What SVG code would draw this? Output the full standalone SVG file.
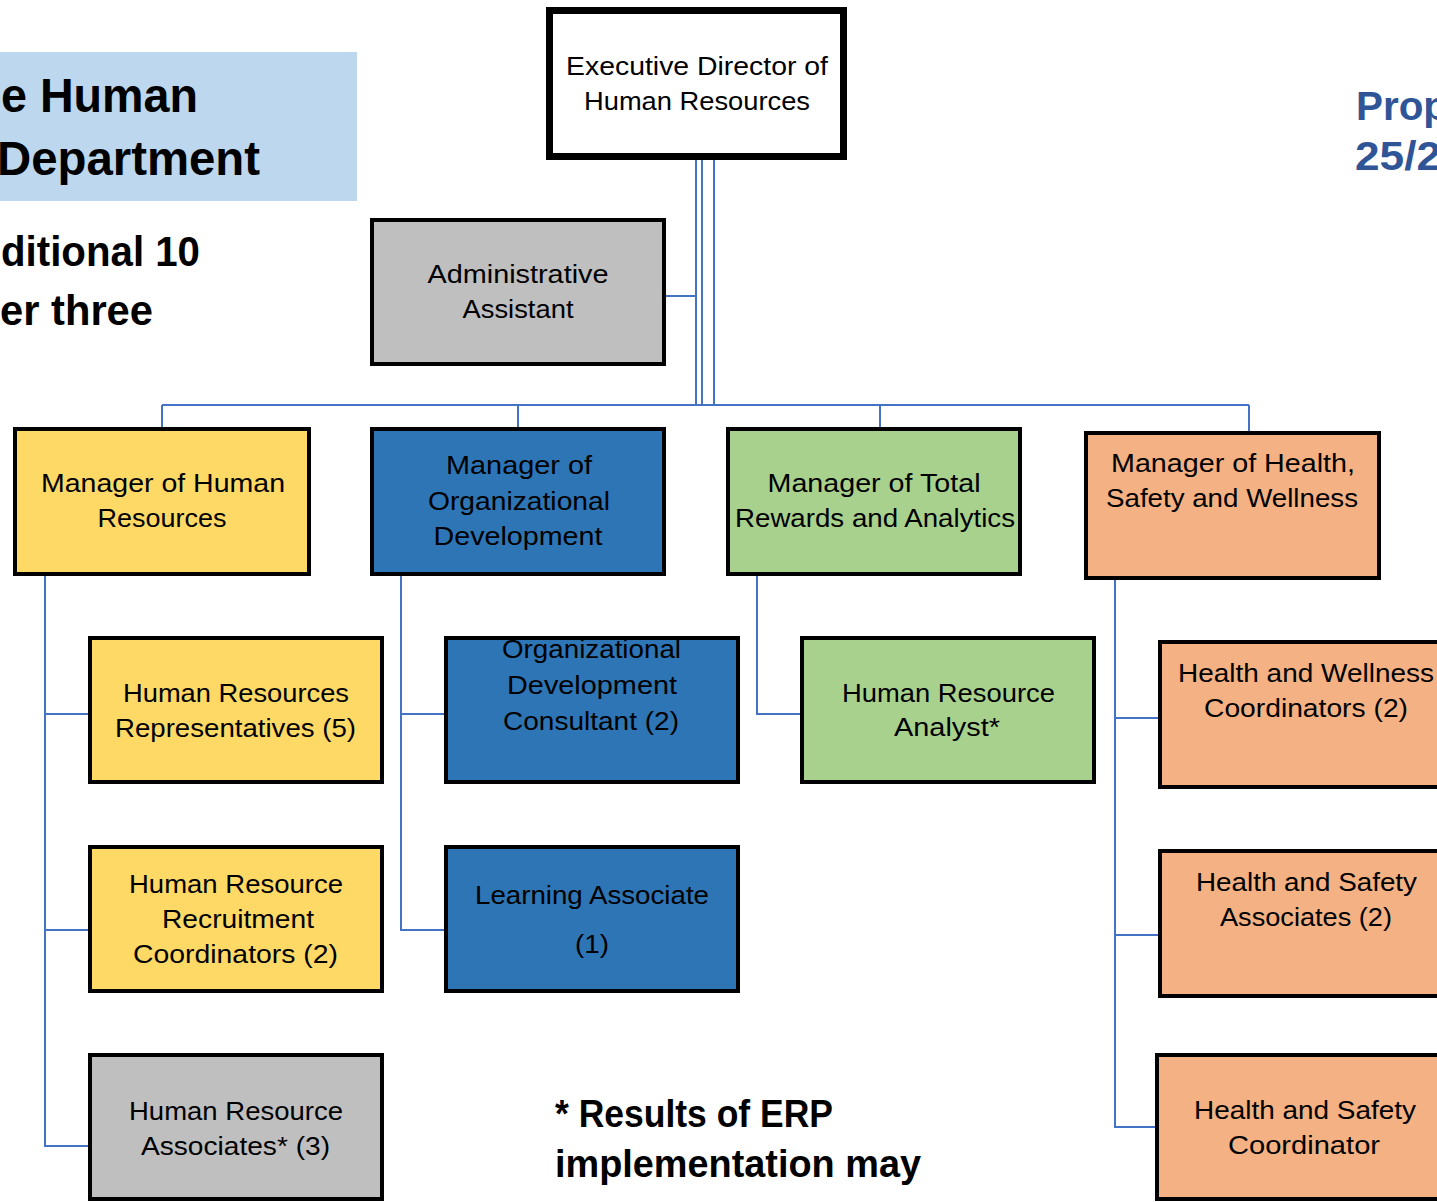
<svg xmlns="http://www.w3.org/2000/svg" width="1437" height="1202" viewBox="0 0 1437 1202">
<style>
.box{stroke:#000;stroke-width:4}
.exec{fill:#fff;stroke:#000;stroke-width:7}
.grey{fill:#BFBFBF}
.yel{fill:#FFD966}
.blu{fill:#2E75B6}
.grn{fill:#A9D18E}
.org{fill:#F4B183}
.t{font-family:"Liberation Sans",Arial,sans-serif;font-size:26px;fill:#000;text-anchor:middle}
.b{font-family:"Liberation Sans",Arial,sans-serif;font-weight:bold;fill:#000}
.conn line,.conn polyline{stroke:#4472C4;stroke-width:2;fill:none}
</style>
<rect x="0" y="52" width="357" height="149" fill="#BDD7EE"/>
<g id="title">
<text class="b" x="1" y="112" font-size="48" textLength="197" lengthAdjust="spacingAndGlyphs">e Human</text>
<text class="b" x="-3" y="175" font-size="48" textLength="263" lengthAdjust="spacingAndGlyphs">Department</text>
<text class="b" x="1" y="266" font-size="42" textLength="199" lengthAdjust="spacingAndGlyphs">ditional 10</text>
<text class="b" x="0" y="325" font-size="42" textLength="153" lengthAdjust="spacingAndGlyphs">er three</text>
<text class="b" x="1356" y="120" font-size="40" style="fill:#2F5597" textLength="92" lengthAdjust="spacingAndGlyphs">Prop</text>
<text class="b" x="1355" y="170" font-size="40" style="fill:#2F5597" textLength="86" lengthAdjust="spacingAndGlyphs">25/2</text>
</g>
<g id="note">
<text class="b" x="555" y="1127" font-size="38" textLength="278" lengthAdjust="spacingAndGlyphs">* Results of ERP</text>
<text class="b" x="555" y="1177" font-size="38" textLength="366" lengthAdjust="spacingAndGlyphs">implementation may</text>
</g>
<g id="connectors" class="conn">
<line x1="696" y1="160" x2="696" y2="405"/>
<line x1="702" y1="160" x2="702" y2="405"/>
<line x1="714" y1="160" x2="714" y2="405"/>
<line x1="666" y1="296" x2="696" y2="296"/>
<line x1="162" y1="405" x2="1249" y2="405"/>
<line x1="162" y1="405" x2="162" y2="427"/>
<line x1="518" y1="405" x2="518" y2="427"/>
<line x1="880" y1="405" x2="880" y2="427"/>
<line x1="1249" y1="405" x2="1249" y2="431"/>
<polyline points="45,576 45,1146 88,1146"/>
<line x1="45" y1="714" x2="88" y2="714"/>
<line x1="45" y1="930" x2="88" y2="930"/>
<polyline points="401,576 401,930 444,930"/>
<line x1="401" y1="714" x2="444" y2="714"/>
<polyline points="757,576 757,714 800,714"/>
<polyline points="1115,580 1115,1127 1155,1127"/>
<line x1="1115" y1="718" x2="1158" y2="718"/>
<line x1="1115" y1="935" x2="1158" y2="935"/>
</g>
<g id="exec">
<rect class="exec" x="549.5" y="10.5" width="294" height="146"/>
<text class="t" x="697" y="75" textLength="262" lengthAdjust="spacingAndGlyphs">Executive Director of</text>
<text class="t" x="697" y="110" textLength="226" lengthAdjust="spacingAndGlyphs">Human Resources</text>
</g>
<g id="admin">
<rect class="box grey" x="372" y="220" width="292" height="144"/>
<text class="t" x="518" y="283" textLength="181" lengthAdjust="spacingAndGlyphs">Administrative</text>
<text class="t" x="518" y="318" textLength="111" lengthAdjust="spacingAndGlyphs">Assistant</text>
</g>
<g id="mgr-hr">
<rect class="box yel" x="15" y="429" width="294" height="145"/>
<text class="t" x="163" y="492" textLength="244" lengthAdjust="spacingAndGlyphs">Manager of Human</text>
<text class="t" x="162" y="527" textLength="129" lengthAdjust="spacingAndGlyphs">Resources</text>
</g>
<g id="mgr-od">
<rect class="box blu" x="372" y="429" width="292" height="145"/>
<text class="t" x="519" y="474" textLength="146" lengthAdjust="spacingAndGlyphs">Manager of</text>
<text class="t" x="519" y="510" textLength="182" lengthAdjust="spacingAndGlyphs">Organizational</text>
<text class="t" x="518" y="545" textLength="169" lengthAdjust="spacingAndGlyphs">Development</text>
</g>
<g id="mgr-tr">
<rect class="box grn" x="728" y="429" width="292" height="145"/>
<text class="t" x="874" y="492" textLength="213" lengthAdjust="spacingAndGlyphs">Manager of Total</text>
<text class="t" x="875" y="527" textLength="280" lengthAdjust="spacingAndGlyphs">Rewards and Analytics</text>
</g>
<g id="mgr-hsw">
<rect class="box org" x="1086" y="433" width="293" height="145"/>
<text class="t" x="1233" y="472" textLength="244" lengthAdjust="spacingAndGlyphs">Manager of Health,</text>
<text class="t" x="1232" y="507" textLength="252" lengthAdjust="spacingAndGlyphs">Safety and Wellness</text>
</g>
<g id="hr-reps">
<rect class="box yel" x="90" y="638" width="292" height="144"/>
<text class="t" x="236" y="702" textLength="226" lengthAdjust="spacingAndGlyphs">Human Resources</text>
<text class="t" x="235.5" y="737" textLength="241" lengthAdjust="spacingAndGlyphs">Representatives (5)</text>
</g>
<g id="hr-recruit">
<rect class="box yel" x="90" y="847" width="292" height="144"/>
<text class="t" x="236" y="893" textLength="214" lengthAdjust="spacingAndGlyphs">Human Resource</text>
<text class="t" x="238" y="928" textLength="152" lengthAdjust="spacingAndGlyphs">Recruitment</text>
<text class="t" x="235.5" y="963" textLength="205" lengthAdjust="spacingAndGlyphs">Coordinators (2)</text>
</g>
<g id="hr-assoc">
<rect class="box grey" x="90" y="1055" width="292" height="144"/>
<text class="t" x="236" y="1120" textLength="214" lengthAdjust="spacingAndGlyphs">Human Resource</text>
<text class="t" x="235.5" y="1155" textLength="189" lengthAdjust="spacingAndGlyphs">Associates* (3)</text>
</g>
<g id="od-consult">
<rect class="box blu" x="446" y="638" width="292" height="144"/>
<text class="t" x="591.5" y="658" textLength="179" lengthAdjust="spacingAndGlyphs">Organizational</text>
<text class="t" x="592" y="694" textLength="170" lengthAdjust="spacingAndGlyphs">Development</text>
<text class="t" x="591" y="730" textLength="176" lengthAdjust="spacingAndGlyphs">Consultant (2)</text>
</g>
<g id="learning">
<rect class="box blu" x="446" y="847" width="292" height="144"/>
<text class="t" x="592" y="904" textLength="234" lengthAdjust="spacingAndGlyphs">Learning Associate</text>
<text class="t" x="592" y="953" textLength="34" lengthAdjust="spacingAndGlyphs">(1)</text>
</g>
<g id="hr-analyst">
<rect class="box grn" x="802" y="638" width="292" height="144"/>
<text class="t" x="948.5" y="702" textLength="213" lengthAdjust="spacingAndGlyphs">Human Resource</text>
<text class="t" x="947" y="736" textLength="106" lengthAdjust="spacingAndGlyphs">Analyst*</text>
</g>
<g id="hw-coord">
<rect class="box org" x="1160" y="642" width="292" height="145"/>
<text class="t" x="1306" y="682" textLength="256" lengthAdjust="spacingAndGlyphs">Health and Wellness</text>
<text class="t" x="1306" y="717" textLength="204" lengthAdjust="spacingAndGlyphs">Coordinators (2)</text>
</g>
<g id="hs-assoc">
<rect class="box org" x="1160" y="851" width="292" height="145"/>
<text class="t" x="1306.5" y="891" textLength="221" lengthAdjust="spacingAndGlyphs">Health and Safety</text>
<text class="t" x="1306" y="926" textLength="172" lengthAdjust="spacingAndGlyphs">Associates (2)</text>
</g>
<g id="hs-coord">
<rect class="box org" x="1157" y="1055" width="292" height="144"/>
<text class="t" x="1305" y="1119" textLength="222" lengthAdjust="spacingAndGlyphs">Health and Safety</text>
<text class="t" x="1304" y="1154" textLength="152" lengthAdjust="spacingAndGlyphs">Coordinator</text>
</g>
</svg>
